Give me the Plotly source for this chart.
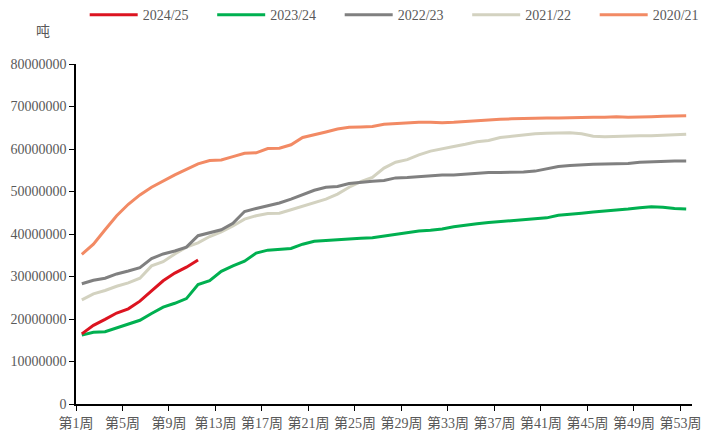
import plotly.graph_objects as go

weeks = list(range(1, 54))
tick_weeks = list(range(1, 54, 4))
tick_labels = [f"第{w}周" for w in tick_weeks]

s2425 = [16.5, 18.5, 19.9, 21.4, 22.4, 24.2, 26.6, 29.0, 30.8, 32.2, 33.9]

s2324 = [16.2, 16.9, 17.0, 17.9, 18.7, 19.7, 21.3, 22.8, 23.7, 24.8,
         28.1, 29.0, 31.2, 32.5, 33.6, 35.5, 36.2, 36.4, 36.6, 37.6,
         38.3, 38.5, 38.7, 38.8, 39.0, 39.1, 39.5, 40.0, 40.4, 40.7,
         40.9, 41.2, 41.7, 42.1, 42.4, 42.7, 42.9, 43.1, 43.3, 43.5,
         43.8, 44.4, 44.6, 44.9, 45.2, 45.4, 45.6, 45.9, 46.2, 46.4,
         46.3, 46.0, 45.9]

s2223 = [28.3, 29.1, 29.6, 30.6, 31.3, 32.1, 34.2, 35.3, 36.0, 36.9,
         39.6, 40.3, 41.0, 42.5, 45.3, 46.0, 46.6, 47.3, 48.2, 49.2,
         50.3, 51.0, 51.2, 51.9, 52.2, 52.4, 52.6, 53.2, 53.3, 53.5,
         53.7, 53.9, 53.9, 54.1, 54.4, 54.5, 54.5, 54.5, 54.6, 54.8,
         55.3, 55.9, 56.1, 56.3, 56.4, 56.5, 56.6, 56.6, 56.9, 57.0,
         57.2, 57.2, 57.2]

s2122 = [24.5, 25.9, 26.7, 27.7, 28.5, 29.6, 32.5, 33.5, 35.3, 36.9,
         37.9, 39.4, 40.5, 41.9, 43.5, 44.3, 44.8, 44.9, 45.7, 46.5,
         47.3, 48.2, 49.4, 51.0, 52.3, 53.3, 55.5, 56.9, 57.5, 58.6,
         59.5, 60.1, 60.6, 61.1, 61.7, 62.0, 62.7, 63.0, 63.3, 63.6,
         63.7, 63.8, 63.8, 63.6, 63.0, 62.9, 63.0, 63.1, 63.1, 63.1,
         63.2, 63.3, 63.5]

s2021 = [35.2, 37.6, 41.0, 44.3, 47.0, 49.2, 51.0, 52.5, 53.9, 55.2,
         56.5, 57.3, 57.4, 58.2, 59.0, 59.1, 60.1, 60.2, 61.0, 62.7,
         63.3, 64.0, 64.7, 65.1, 65.2, 65.3, 65.8, 66.0, 66.2, 66.3,
         66.3, 66.2, 66.3, 66.5, 66.7, 66.8, 67.0, 67.1, 67.2, 67.2,
         67.3, 67.3, 67.4, 67.5, 67.5, 67.5, 67.6, 67.5, 67.5, 67.6,
         67.7, 67.8, 67.8]

series = [
    ("2024/25", s2425, "#dc1420", 1),
    ("2023/24", s2324, "#00b050", 2),
    ("2022/23", s2223, "#808080", 3),
    ("2021/22", s2122, "#d3d2c0", 4),
    ("2020/21", s2021, "#f28a64", 5),
]

fig = go.Figure()
for name, vals, color, rank in reversed(series):
    fig.add_trace(go.Scatter(
        x=weeks[:len(vals)], y=[v * 1e6 for v in vals], name=name,
        mode="lines", line=dict(color=color, width=3),
        legendrank=rank, hoverinfo="skip"))

axis_font = dict(family="Liberation Serif, Noto Sans CJK SC", size=14, color="#595959")

# page body adds an 8px offset, so the figure is sized to fit the window
fig.update_layout(
    width=702, height=423,
    margin=dict(l=68, r=18, t=56, b=27, autoexpand=False),
    plot_bgcolor="white", paper_bgcolor="white",
    showlegend=True,
    legend=dict(orientation="h", xref="paper", yref="paper",
                x=-0.0005, y=1.144, xanchor="left", yanchor="middle",
                entrywidth=55.5, entrywidthmode="pixels", itemwidth=48,
                indentation=9,
                font=axis_font, bgcolor="rgba(0,0,0,0)",
                traceorder="normal"),
    xaxis=dict(range=[0.5, 53.5], tickmode="array",
               tickvals=[w - 0.5 for w in tick_weeks], ticktext=tick_labels,
               showgrid=False, zeroline=False, showline=True, automargin=False,
               linecolor="black", linewidth=1.5, ticks="outside",
               ticklen=5, tickcolor="black", tickwidth=1.2,
               tickfont=axis_font, tickangle=0),
    yaxis=dict(range=[0, 80e6], tickmode="array",
               tickvals=[i * 1e7 for i in range(9)],
               ticktext=[str(i * 10000000) for i in range(9)],
               showgrid=False, zeroline=False, showline=True, automargin=False,
               linecolor="black", linewidth=1.5, ticks="outside",
               ticklen=5, tickcolor="black", tickwidth=1.2,
               tickfont=axis_font),
    annotations=[dict(text="吨", xref="paper", yref="paper",
                      x=-0.054, y=1.1, xanchor="center", yanchor="middle",
                      showarrow=False,
                      font=dict(family="Noto Sans CJK SC", size=14, color="#595959"))],
)

fig.write_html("out.html")
